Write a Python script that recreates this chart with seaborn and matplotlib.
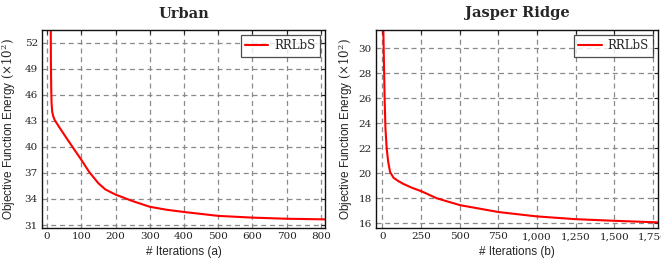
import matplotlib
matplotlib.use("Agg")
import matplotlib.pyplot as plt
import matplotlib.ticker as mticker
import numpy as np
import pandas as pd
import seaborn as sns

# ---- data ----
urban_iter = [10, 11, 12, 13, 15, 18, 22, 30, 50, 74, 100, 123, 150, 170, 200, 250, 300, 350, 400, 500, 600, 700, 812]
urban_energy = [60, 50, 46.5, 45.0, 44.0, 43.5, 43.1, 42.6, 41.4, 40.0, 38.5, 37.1, 35.8, 35.1, 34.5, 33.75, 33.1, 32.75, 32.5, 32.05, 31.85, 31.72, 31.65]

jasper_iter = [5, 10, 15, 20, 28, 38, 50, 72, 100, 136, 190, 255, 352, 503, 751, 1000, 1250, 1500, 1790]
jasper_energy = [32.5, 29.0, 25.8, 23.6, 22.0, 20.9, 20.1, 19.65, 19.4, 19.15, 18.85, 18.55, 18.0, 17.45, 16.9, 16.55, 16.33, 16.2, 16.07]

urban_xticks = [0, 100, 200, 300, 400, 500, 600, 700, 800]
urban_yticks = [31, 34, 37, 40, 43, 46, 49, 52]
jasper_xticks = [0, 250, 500, 750, 1000, 1250, 1500, 1750]
jasper_yticks = [16, 18, 20, 22, 24, 26, 28, 30]

titles = ["Urban", "Jasper Ridge"]
xlabels = ["# Iterations (a)", "# Iterations (b)"]
series_name = "RRLbS"

sns.set_style("white")
plt.rcParams["font.family"] = ["Liberation Sans", "DejaVu Sans"]
plt.rcParams["mathtext.fontset"] = "dejavuserif"

fig = plt.figure(figsize=(6.61, 2.63), dpi=100)
ax1 = fig.add_axes([42 / 661, 1 - 228.3 / 263, 283 / 661, 198.3 / 263])
ax2 = fig.add_axes([375.7 / 661, 1 - 228.3 / 263, 282.6 / 661, 198.3 / 263])

dfs = [
    pd.DataFrame({"iter": urban_iter, "energy": urban_energy, "method": series_name}),
    pd.DataFrame({"iter": jasper_iter, "energy": jasper_energy, "method": series_name}),
]
xlims = [(-15, 812), (-43, 1785)]
ylims = [(30.62, 53.46), (15.6, 31.46)]
xticks = [urban_xticks, jasper_xticks]
yticks = [urban_yticks, jasper_yticks]
ylabel_x = [-0.084, -0.073]

for ax, df, title, xl, xlim, ylim, xt, yt, lx in zip(
    [ax1, ax2], dfs, titles, xlabels, xlims, ylims, xticks, yticks, ylabel_x
):
    sns.lineplot(data=df, x="iter", y="energy", hue="method", palette=["#ff0000"],
                 linewidth=1.5, ax=ax, sort=False, estimator=None)
    ax.set_xlim(*xlim)
    ax.set_ylim(*ylim)
    ax.set_xticks(xt)
    ax.set_yticks(yt)
    ax.xaxis.set_major_formatter(mticker.FuncFormatter(lambda v, p: f"{int(v):,}"))
    ax.grid(True, linestyle=(0, (4, 3)), color="#8a8a8a", linewidth=0.9)
    ax.set_axisbelow(True)
    ax.tick_params(direction="in", top=True, right=True, length=3, width=0.8,
                   labelsize=7.5, pad=3, colors="#222222")
    for lab in ax.get_xticklabels() + ax.get_yticklabels():
        lab.set_fontfamily("DejaVu Serif")
    for s in ax.spines.values():
        s.set_color("#111111")
        s.set_linewidth(1.0)
    ax.set_title(title, fontfamily="DejaVu Serif", fontweight="bold", fontsize=10.5, pad=9)
    ax.set_xlabel(xl, fontsize=8.5, fontfamily=["Liberation Sans", "DejaVu Sans"], labelpad=3)
    ax.set_ylabel(r"Objective Function Energy $(\times10^2)$", fontsize=8.5,
                  fontfamily=["Liberation Sans", "DejaVu Sans"])
    ax.yaxis.set_label_coords(lx, 0.5)
    leg = ax.legend(loc="upper right", frameon=True, fancybox=False, handlelength=2.0,
                    prop={"family": "DejaVu Serif", "size": 8.5}, borderpad=0.35,
                    handletextpad=0.5, borderaxespad=0.45)
    leg.get_frame().set_edgecolor("#222222")
    leg.get_frame().set_linewidth(0.9)
    leg.set_title(None)

fig.savefig("out.png", dpi=100)
